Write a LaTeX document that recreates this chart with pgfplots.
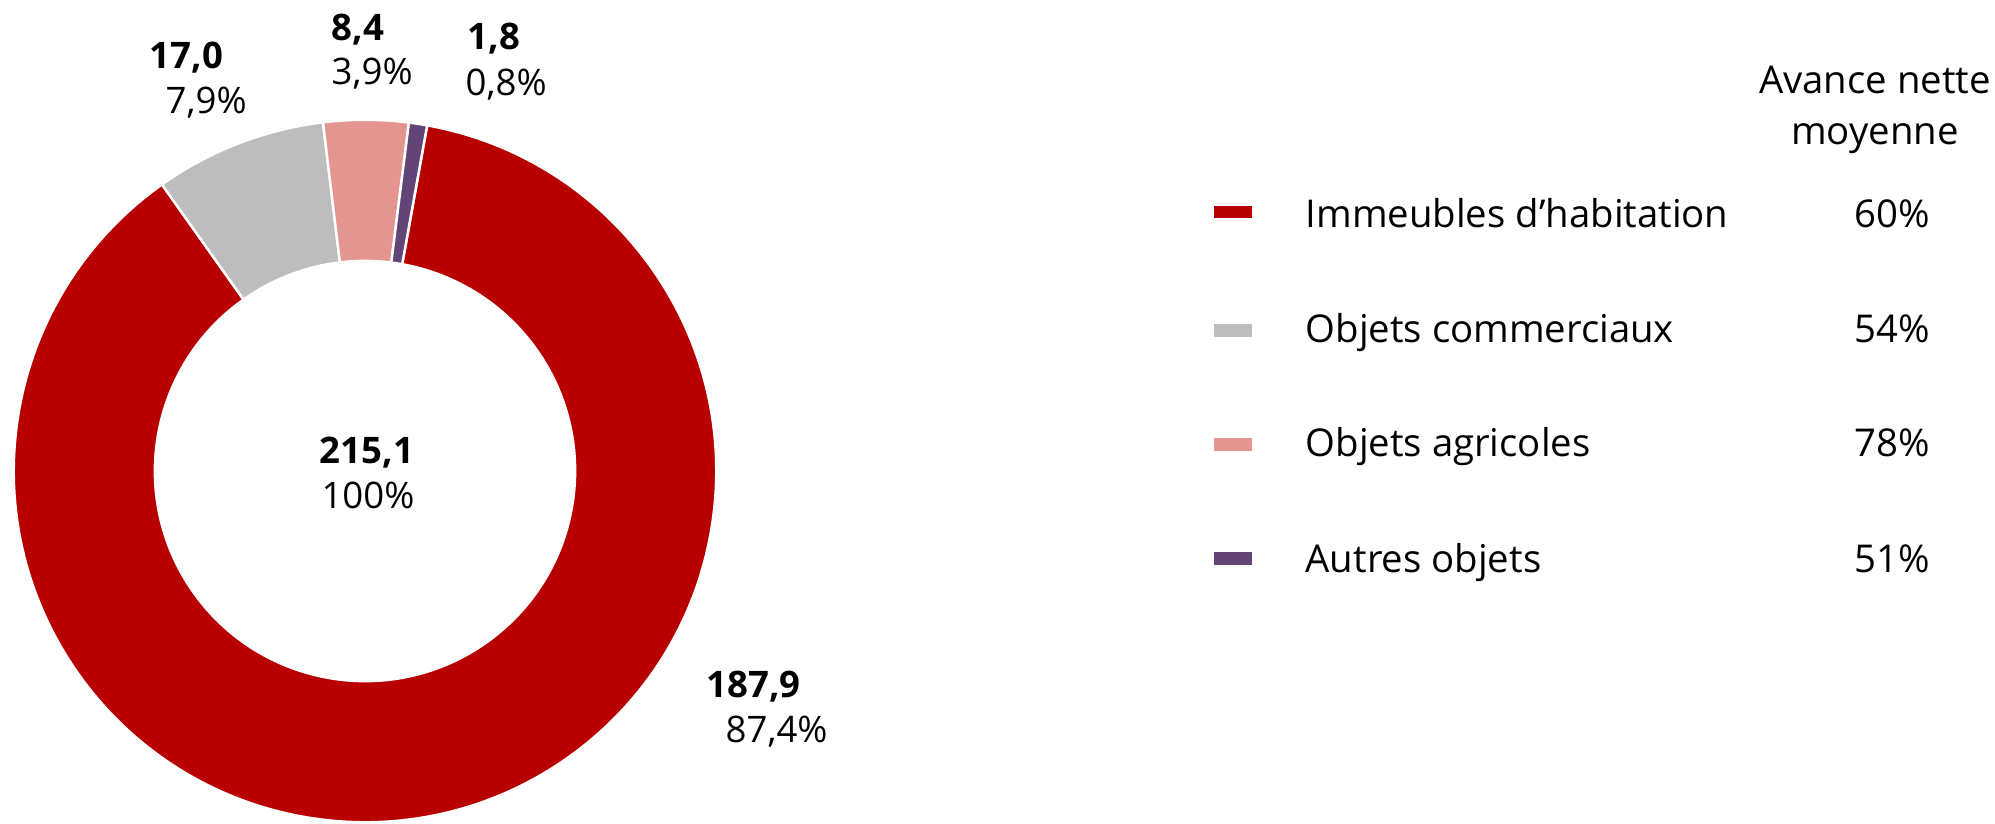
\documentclass[border=0pt]{standalone}
\usepackage{fontspec}
\setmainfont{Open Sans}
\usepackage{pgfplots}
\usepackage{pgfplotstable}
\pgfplotsset{compat=1.18}

\definecolor{cRed}{HTML}{B80000}
\definecolor{cGray}{HTML}{BDBDBD}
\definecolor{cPink}{HTML}{E5958F}
\definecolor{cPurple}{HTML}{624476}

% slice values, clockwise from the top
\pgfplotstableread{
value
187.9
17.0
8.4
1.8
}\slices

\newcommand\lab{\fontsize{10.4pt}{12.5pt}\selectfont}
\newcommand\leg{\fontsize{10.9pt}{13pt}\selectfont}

% one ring sector: colour, start angle, end angle
% (overlay: arc control points must not grow the bounding box)
\newcommand\ring[3]{%
  \fill[#1, draw=white, line width=0.7pt, overlay]
    ([shift={(#2:3.51cm)}]axis cs:365,352) arc[start angle=#2, end angle=#3, radius=3.51cm]
    -- ([shift={(#3:2.10cm)}]axis cs:365,352) arc[start angle=#3, end angle=#2, radius=2.10cm]
    -- cycle;}

\begin{document}
\begin{tikzpicture}
\pgfplotstablegetelem{0}{value}\of\slices \let\vA\pgfplotsretval
\pgfplotstablegetelem{1}{value}\of\slices \let\vB\pgfplotsretval
\pgfplotstablegetelem{2}{value}\of\slices \let\vC\pgfplotsretval
\pgfplotstablegetelem{3}{value}\of\slices \let\vD\pgfplotsretval
\pgfmathsetmacro\total{\vA+\vB+\vC+\vD}
\pgfmathsetmacro\aA{79.8}
\pgfmathsetmacro\aB{\aA-360*(\vA/\total)}
\pgfmathsetmacro\aC{\aB-360*(\vB/\total)}
\pgfmathsetmacro\aD{\aC-360*(\vC/\total)}
\pgfmathsetmacro\aE{\aD-360*(\vD/\total)}
\begin{axis}[
  x=0.01cm, y=0.01cm,
  xmin=0, xmax=1995, ymin=0, ymax=823,
  hide axis, clip=false,
]
\path (axis cs:0,0) rectangle (axis cs:1995,823);

\ring{cRed}{\aA}{\aB}
\ring{cGray}{\aB}{\aC}
\ring{cPink}{\aC}{\aD}
\ring{cPurple}{\aD}{\aE}

% slice labels
\begin{scope}[every node/.style={inner sep=0pt, anchor=base west}]
\node at (axis cs:149,755) {\lab\bfseries 17,0};
\node at (axis cs:165,710) {\lab 7,9\%};
\node at (axis cs:331,783) {\lab\bfseries 8,4};
\node at (axis cs:331,739) {\lab 3,9\%};
\node at (axis cs:467,774) {\lab\bfseries 1,8};
\node at (axis cs:465,728) {\lab 0,8\%};
\node at (axis cs:706,126) {\lab\bfseries 187,9};
\node at (axis cs:725,81) {\lab 87,4\%};
\node[anchor=base] at (axis cs:367,360) {\lab\bfseries 215,1};
\node[anchor=base] at (axis cs:368,315) {\lab 100\%};

% legend
\node[anchor=base] at (axis cs:1875,730) {\leg Avance nette};
\node[anchor=base] at (axis cs:1875,679) {\leg moyenne};

\fill[cRed] (axis cs:1214,605) rectangle (axis cs:1252,617);
\fill[cGray] (axis cs:1214,486) rectangle (axis cs:1252,499);
\fill[cPink] (axis cs:1214,372) rectangle (axis cs:1252,385);
\fill[cPurple] (axis cs:1214,258) rectangle (axis cs:1252,271);

\node at (axis cs:1305,596) {\leg Immeubles d’habitation};
\node at (axis cs:1305,481) {\leg Objets commerciaux};
\node at (axis cs:1305,367) {\leg Objets agricoles};
\node at (axis cs:1305,251) {\leg Autres objets};

\node[anchor=base east] at (axis cs:1931,596) {\leg 60\%};
\node[anchor=base east] at (axis cs:1931,481) {\leg 54\%};
\node[anchor=base east] at (axis cs:1931,367) {\leg 78\%};
\node[anchor=base east] at (axis cs:1931,251) {\leg 51\%};
\end{scope}
\end{axis}
\end{tikzpicture}
\end{document}
